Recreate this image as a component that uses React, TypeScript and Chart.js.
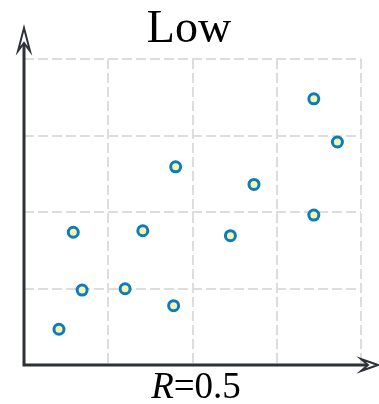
import React, { useEffect, useRef } from "react";
import { Chart, registerables } from "chart.js";

Chart.register(...registerables);

const titleText = "Low";
const xLabelVar = "R";
const xLabelRest = "=0.5";
const xValues = [0.415, 0.69, 0.585, 1.2, 1.41, 1.776, 1.8, 2.45, 2.73, 3.44, 3.72, 3.44];
const yValues = [0.467, 0.98, 1.735, 0.997, 1.755, 0.775, 2.59, 1.69, 2.36, 3.48, 2.915, 1.96];
const axisMin = 0;
const axisMax = 4;

const AXIS_COLOR = "#2e3138";

const decorPlugin = {
  id: "decor",
  afterDraw(chart: any) {
    const { ctx, chartArea } = chart;
    const { left, bottom } = chartArea;
    ctx.save();
    // axes
    ctx.strokeStyle = AXIS_COLOR;
    ctx.lineWidth = 3;
    ctx.beginPath();
    ctx.moveTo(left, bottom + 1.5);
    ctx.lineTo(left, 34);
    ctx.moveTo(left - 1.5, bottom);
    ctx.lineTo(372, bottom);
    ctx.stroke();
    // y arrow (open stealth)
    ctx.lineWidth = 2;
    ctx.lineJoin = "miter";
    ctx.fillStyle = "#ffffff";
    ctx.beginPath();
    ctx.moveTo(left, 28);
    ctx.lineTo(left - 6, 51);
    ctx.lineTo(left, 43);
    ctx.lineTo(left + 6, 51);
    ctx.closePath();
    ctx.fill();
    ctx.stroke();
    // x arrow
    ctx.beginPath();
    ctx.moveTo(378, bottom);
    ctx.lineTo(361, bottom - 6);
    ctx.lineTo(368, bottom);
    ctx.lineTo(361, bottom + 6);
    ctx.closePath();
    ctx.fill();
    ctx.stroke();
    // title
    ctx.fillStyle = "#000000";
    ctx.textBaseline = "alphabetic";
    ctx.textAlign = "center";
    ctx.font = '46px "Liberation Serif", "Times New Roman", serif';
    ctx.fillText(titleText, 189, 42);
    // x label with italic variable
    ctx.textAlign = "left";
    ctx.font = 'italic 37px "Liberation Serif", "Times New Roman", serif';
    const w1 = ctx.measureText(xLabelVar).width;
    ctx.font = '37px "Liberation Serif", "Times New Roman", serif';
    const w2 = ctx.measureText(xLabelRest).width;
    const start = 196 - (w1 + w2) / 2;
    ctx.font = 'italic 37px "Liberation Serif", "Times New Roman", serif';
    ctx.fillText(xLabelVar, start, 398);
    ctx.font = '37px "Liberation Serif", "Times New Roman", serif';
    ctx.fillText(xLabelRest, start + w1, 398);
    ctx.restore();
  },
};

export default function App() {
  const ref = useRef<HTMLCanvasElement>(null);
  useEffect(() => {
    if (!ref.current) return;
    const data = xValues.map((x, i) => ({ x, y: yValues[i] }));
    const gridOpts = {
      color: "#dcdce1",
      lineWidth: 2,
      drawTicks: false,
    };
    const chart = new Chart(ref.current, {
      type: "scatter",
      data: {
        datasets: [
          {
            data,
            pointRadius: 5,
            pointHoverRadius: 5,
            pointBorderWidth: 3,
            pointBackgroundColor: "#fbf4a8",
            pointBorderColor: "#0a7cc2",
          },
        ],
      },
      options: {
        animation: false,
        responsive: false,
        maintainAspectRatio: false,
        layout: { padding: { left: 24, right: 18, top: 59, bottom: 39 } },
        plugins: { legend: { display: false }, title: { display: false }, tooltip: { enabled: false } },
        scales: {
          x: {
            type: "linear",
            min: axisMin,
            max: axisMax,
            ticks: { display: false, stepSize: 1 },
            grid: gridOpts,
            border: { display: false, dash: [10, 4] },
          },
          y: {
            type: "linear",
            min: axisMin,
            max: axisMax,
            ticks: { display: false, stepSize: 1 },
            grid: gridOpts,
            border: { display: false, dash: [10, 4] },
          },
        },
      },
      plugins: [decorPlugin],
    } as any);
    return () => chart.destroy();
  }, []);
  return (
    <div style={{ position: "absolute", left: 0, top: 0, width: 379, height: 404, background: "#fff" }}>
      <canvas ref={ref} width={379} height={404} style={{ display: "block" }} />
    </div>
  );
}
